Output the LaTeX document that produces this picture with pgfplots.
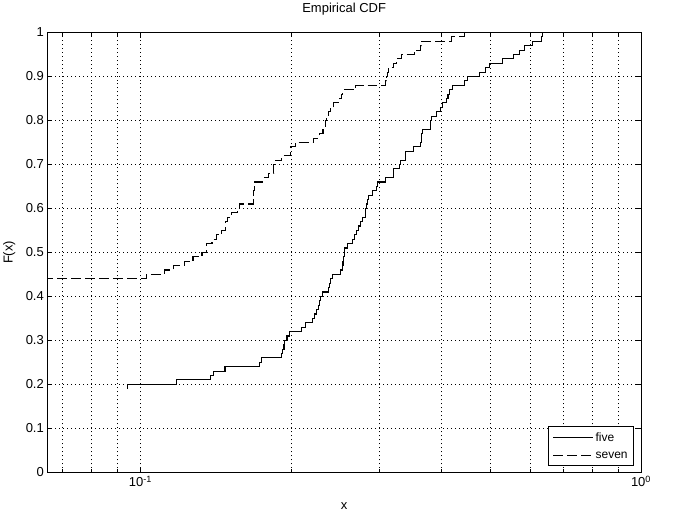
\documentclass[border=0pt]{standalone}
\usepackage{fontspec}
\setmainfont{Liberation Sans}
\usepackage{pgfplots}
\pgfplotsset{compat=1.18}
\begin{document}
\begin{tikzpicture}[x=1pt,y=1pt]
\begin{axis}[
  at={(0,0)}, anchor=south west,
  scale only axis, width=594pt, height=440pt,
  xmode=log, log basis x=10,
  xmin=0.0652, xmax=1, ymin=0, ymax=1,
  xtick={0.1,1},
  xticklabels={10\textsuperscript{-1},10\textsuperscript{0}},
  minor xtick={0.07,0.08,0.09,0.2,0.3,0.4,0.5,0.6,0.7,0.8,0.9},
  ytick={0,0.1,0.2,0.3,0.4,0.5,0.6,0.7,0.8,0.9,1},
  yticklabels={0,0.1,0.2,0.3,0.4,0.5,0.6,0.7,0.8,0.9,1},
  xmajorgrids, xminorgrids, ymajorgrids,
  major grid style={black, line width=0.7pt, dash pattern=on 1pt off 3pt},
  minor grid style={black, line width=0.7pt, dash pattern=on 1pt off 3pt},
  tick align=inside, major tick length=5pt, minor tick length=3pt,
  tick style={black, line width=0.7pt},
  axis line style={black, line width=0.9pt},
  ticklabel style={font=\fontsize{13}{15}\selectfont},
  title={Empirical CDF},
  title style={font=\fontsize{13}{15}\selectfont, at={(axis description cs:0.5,1.039)}, anchor=center},
  xlabel={x},
  xlabel style={font=\fontsize{13}{15}\selectfont, at={(axis description cs:0.5,-0.077)}, anchor=center},
  ylabel={F(x)},
  ylabel style={font=\fontsize{13}{15}\selectfont, at={(axis description cs:-0.064,0.5)}, anchor=center},
  legend style={at={(1,0)}, anchor=south east, xshift=-7pt, yshift=6pt,
    draw=black, line width=0.8pt, fill=white, font=\fontsize{12}{14}\selectfont,
    inner xsep=4pt, inner ysep=4pt, row sep=5pt},
  legend cell align=left,
  legend image code/.code={\draw[#1] (0pt,0pt) -- (40pt,0pt);},
]
\addplot[black, line width=1.1pt, const plot mark left] coordinates {
(0.0942,0.19) (0.0942,0.20) (0.1180,0.21) (0.1379,0.22) (0.1398,0.23)
(0.1476,0.24) (0.1728,0.25) (0.1746,0.26) (0.1918,0.27) (0.1922,0.28)
(0.1936,0.29) (0.1942,0.30) (0.1963,0.31) (0.1986,0.32) (0.2097,0.33)
(0.2135,0.34) (0.2208,0.35) (0.2230,0.36) (0.2251,0.37) (0.2272,0.38)
(0.2282,0.39) (0.2291,0.40) (0.2312,0.41) (0.2376,0.42) (0.2387,0.43)
(0.2402,0.44) (0.2420,0.45) (0.2510,0.46) (0.2538,0.47) (0.2540,0.48)
(0.2542,0.49) (0.2557,0.50) (0.2559,0.51) (0.2597,0.52) (0.2653,0.53)
(0.2674,0.54) (0.2707,0.55) (0.2727,0.56) (0.2749,0.57) (0.2783,0.58)
(0.2813,0.59) (0.2815,0.60) (0.2826,0.61) (0.2843,0.62) (0.2856,0.63)
(0.2905,0.64) (0.2959,0.65) (0.2979,0.66) (0.3083,0.67) (0.3199,0.68)
(0.3206,0.69) (0.3293,0.70) (0.3314,0.71) (0.3380,0.72) (0.3391,0.73)
(0.3512,0.74) (0.3633,0.75) (0.3641,0.76) (0.3650,0.77) (0.3655,0.78)
(0.3792,0.79) (0.3804,0.80) (0.3822,0.81) (0.3898,0.82) (0.3971,0.83)
(0.4013,0.84) (0.4082,0.85) (0.4116,0.86) (0.4145,0.87) (0.4196,0.88)
(0.4434,0.89) (0.4502,0.90) (0.4757,0.91) (0.4884,0.92) (0.4981,0.93)
(0.5287,0.94) (0.5561,0.95) (0.5716,0.96) (0.5841,0.97) (0.6068,0.98)
(0.6336,0.99) (0.6365,1.00)
};
\addlegendentry{five}
\addplot[black, line width=1.1pt, dash pattern=on 10pt off 4pt, const plot mark left] coordinates {
(0.06,0.44) (0.1028,0.45) (0.1117,0.46) (0.1166,0.47) (0.1224,0.48)
(0.1274,0.49) (0.1328,0.50) (0.1354,0.51) (0.1356,0.52) (0.1390,0.53)
(0.1422,0.54) (0.1455,0.55) (0.1478,0.56) (0.1480,0.57) (0.1494,0.58)
(0.1519,0.59) (0.1560,0.60) (0.1576,0.61) (0.1684,0.62) (0.1685,0.63)
(0.1686,0.64) (0.1687,0.65) (0.1688,0.66) (0.1757,0.67) (0.1804,0.68)
(0.1846,0.69) (0.1848,0.70) (0.1860,0.71) (0.1918,0.72) (0.1993,0.73)
(0.1995,0.74) (0.2039,0.75) (0.2218,0.76) (0.2279,0.77) (0.2316,0.78)
(0.2340,0.79) (0.2342,0.80) (0.2351,0.81) (0.2372,0.82) (0.2394,0.83)
(0.2431,0.84) (0.2499,0.85) (0.2519,0.86) (0.2538,0.87) (0.2695,0.88)
(0.3083,0.89) (0.3107,0.90) (0.3119,0.91) (0.3130,0.92) (0.3199,0.93)
(0.3243,0.94) (0.3330,0.95) (0.3524,0.96) (0.3623,0.97) (0.3650,0.98)
(0.4190,0.99) (0.4434,1.00)
};
\addlegendentry{seven}
\end{axis}
\path (-47pt,-53pt) rectangle (628pt,471pt);
\end{tikzpicture}
\end{document}
